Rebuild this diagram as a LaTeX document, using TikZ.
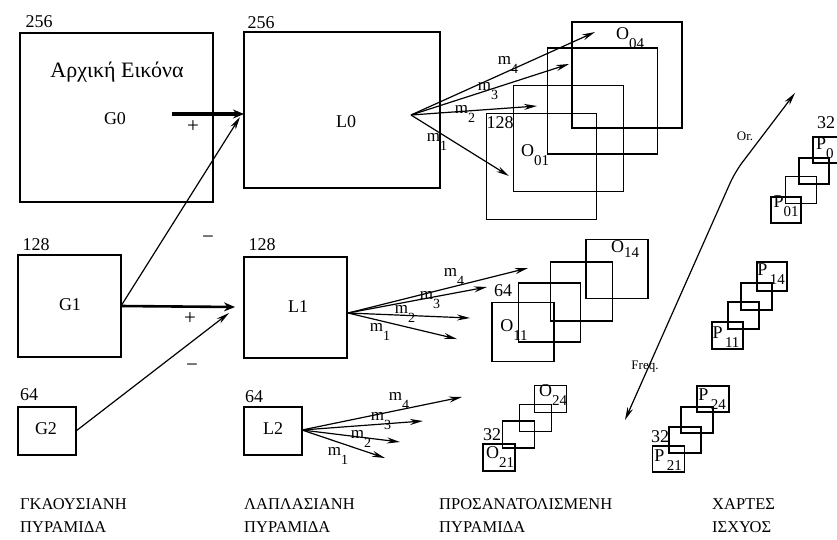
\documentclass[tikz,border=0pt]{standalone}
\usepackage{fontspec}
\setmainfont{Liberation Serif}
\usepackage{tikz}
\usetikzlibrary{arrows.meta, positioning, calc}

% letter with a lowered index, as in the scanned figure
\newcommand{\lowidx}[2]{#1\raisebox{-0.5em}{\fontsize{15}{15}\selectfont #2}}
\newcommand{\midx}[1]{m\raisebox{-0.5em}{\fontsize{14}{14}\selectfont #1}}

\begin{document}
\begin{tikzpicture}[
		x=1pt, y=-1pt,
		font=\fontsize{18}{18}\selectfont,
		box/.style={draw, line width=1.1pt, inner sep=0pt, outer sep=0pt},
		lab/.style={inner sep=0pt},
		sign/.style={inner sep=0pt, font=\fontsize{21}{21}\selectfont},
		mlab/.style={inner sep=0pt, font=\fontsize{17}{17}\selectfont},
		pyrcap/.style={inner sep=0pt, align=left, anchor=west, font=\fontsize{16.5}{23}\selectfont},
		arr/.style={-{Stealth[length=13pt, width=6pt]}, line width=1.2pt},
		thk/.style={-{Stealth[length=11pt, width=9pt]}}
		]
		
		\useasboundingbox (0,0) rectangle (837,539);
		\clip (0,0) rectangle (837,539);
		
		% Gaussian pyramid
		\node[box, minimum width=193, minimum height=169] (G0) at (116.5,117.5) {};
		\node[box, minimum width=103, minimum height=102] (G1) at (69.5,306) {};
		\node[box, minimum width=58, minimum height=48] (G2) at (47,431) {};
		\node[lab] (g0size) at (39,22) {256};
		\node[lab] (g1size) at (36,245) {128};
		\node[lab] (g2size) at (29,395) {64};
		\node[lab, font=\fontsize{22}{22}\selectfont] (orig) at (117,72) {Αρχική Εικόνα};
		\node[lab] (g0name) at (115,119) {G0};
		\node[lab] (g1name) at (70,305) {G1};
		\node[lab] (g2name) at (46,429) {G2};
		
		% Laplacian pyramid
		\node[box, minimum width=196, minimum height=156] (L0) at (342,110) {};
		\node[box, minimum width=103, minimum height=101] (L1) at (295.5,307.5) {};
		\node[box, minimum width=58, minimum height=48] (L2) at (273,431) {};
		\node[lab] (l0size) at (261,23) {256};
		\node[lab] (l1size) at (262,245) {128};
		\node[lab] (l2size) at (254,397) {64};
		\node[lab] (l0name) at (346,122) {L0};
		\node[lab] (l1name) at (298,307) {L1};
		\node[lab] (l2name) at (273,429) {L2};
		
		% Differences G - expand(G)
		\coordinate (g0out) at (172,114);
		\coordinate (l0in) at (244,114);
		\coordinate (l0low) at (240,117);
		\coordinate (l1in) at (235,307);
		\coordinate (l1low) at (229,313);
		\draw[thk, line width=4.5pt] (g0out) -- (l0in);
		\draw[arr] (G1.east) -- (l0low);
		\draw[thk, line width=2.6pt] (G1.east) -- (l1in);
		\draw[arr] (G2.east) -- (l1low);
		\node[sign] (plus0) at (193,127) {+};
		\node[sign] (minus0) at (208,240) {−};
		\node[sign] (plus1) at (190,319) {+};
		\node[sign] (minus1) at (192,368) {−};
		
		% Orientation filters on L0
		\coordinate (l0fan) at (411,115);
		\coordinate (l0m4) at (595,32);
		\coordinate (l0m3) at (569,64);
		\coordinate (l0m2) at (537,106);
		\coordinate (l0m1) at (509,176);
		\draw[arr] (l0fan) -- (l0m4);
		\draw[arr] (l0fan) -- (l0m3);
		\draw[arr] (l0fan) -- (l0m2);
		\draw[arr] (l0fan) -- (l0m1);
		\node[mlab] (l0t4) at (508,65) {\midx{4}};
		\node[mlab] (l0t3) at (488,91) {\midx{3}};
		\node[mlab] (l0t2) at (465,114) {\midx{2}};
		\node[mlab] (l0t1) at (437,142) {\midx{1}};
		
		% Orientation filters on L1
		\coordinate (l1fan) at (348,313);
		\coordinate (l1m4) at (528,268);
		\coordinate (l1m3) at (487,287);
		\coordinate (l1m2) at (470,318);
		\coordinate (l1m1) at (457,339);
		\draw[arr] (l1fan) -- (l1m4);
		\draw[arr] (l1fan) -- (l1m3);
		\draw[arr] (l1fan) -- (l1m2);
		\draw[arr] (l1fan) -- (l1m1);
		\node[mlab] (l1t4) at (454,277) {\midx{4}};
		\node[mlab] (l1t3) at (430,300) {\midx{3}};
		\node[mlab] (l1t2) at (405,314) {\midx{2}};
		\node[mlab] (l1t1) at (380,332) {\midx{1}};
		
		% Orientation filters on L2
		\coordinate (l2fan) at (302,430);
		\coordinate (l2m4) at (462,397);
		\coordinate (l2m3) at (423,421);
		\coordinate (l2m2) at (400,442);
		\coordinate (l2m1) at (385,458);
		\draw[arr] (l2fan) -- (l2m4);
		\draw[arr] (l2fan) -- (l2m3);
		\draw[arr] (l2fan) -- (l2m2);
		\draw[arr] (l2fan) -- (l2m1);
		\node[mlab] (l2t4) at (399,401) {\midx{4}};
		\node[mlab] (l2t3) at (381,421) {\midx{3}};
		\node[mlab] (l2t2) at (361,439) {\midx{2}};
		\node[mlab] (l2t1) at (338,456) {\midx{1}};
		
		% Oriented pyramid, level 0
		\node[box, minimum width=110, minimum height=106] (O01) at (541.5,166.5) {};
		\node[box, minimum width=110, minimum height=106] (O02) at (568.5,138.5) {};
		\node[box, minimum width=110, minimum height=106] (O03) at (602.5,101) {};
		\node[box, minimum width=110, minimum height=106] (O04) at (627,75) {};
		\node[lab] (o0size) at (500,123) {128};
		\node[lab] (o01name) at (535,155) {\lowidx{O}{01}};
		\node[lab] (o04name) at (630,38) {\lowidx{O}{04}};
		
		% Oriented pyramid, level 1
		\node[box, minimum width=62, minimum height=59] (O11) at (523,332) {};
		\node[box, minimum width=62, minimum height=59] (O12) at (549.5,312.5) {};
		\node[box, minimum width=62, minimum height=59] (O13) at (581.5,291.5) {};
		\node[box, minimum width=62, minimum height=59] (O14) at (617,269) {};
		\node[lab] (o1size) at (503,291) {64};
		\node[lab] (o11name) at (514,330) {\lowidx{O}{11}};
		\node[lab] (o14name) at (625,249) {O\raisebox{-0.3em}{\fontsize{15}{15}\selectfont 14}};
		
		% Oriented pyramid, level 2
		\node[box, minimum width=32, minimum height=27] (O21) at (499,457.5) {};
		\node[box, minimum width=32, minimum height=27] (O22) at (518.5,434.5) {};
		\node[box, minimum width=32, minimum height=27] (O23) at (535.5,418) {};
		\node[box, minimum width=32, minimum height=27] (O24) at (550.5,399) {};
		\node[lab] (o2size) at (492,435) {32};
		\node[lab] (o21name) at (500,457) {\lowidx{O}{21}};
		\node[lab] (o24name) at (553,395) {\lowidx{O}{24}};
		
		% Power maps, level 0
		\node[box, minimum width=30, minimum height=26] (P01) at (786,210) {};
		\node[box, minimum width=31, minimum height=27] (P02) at (801,190) {};
		\node[box, minimum width=30, minimum height=26] (P03) at (814,171) {};
		\node[box, minimum width=30, minimum height=26] (P04) at (828,150) {};
		\node[lab] (p0size) at (826,123) {32};
		\node[lab] (p01name) at (786,206) {\lowidx{P}{01}};
		\node[lab, anchor=west] (p04name) at (816,148) {\lowidx{P}{0}};
		
		% Power maps, level 1
		\node[box, minimum width=31, minimum height=27] (P11) at (727.5,335.5) {};
		\node[box, minimum width=31, minimum height=27] (P12) at (743.5,315.5) {};
		\node[box, minimum width=31, minimum height=27] (P13) at (756.5,296.5) {};
		\node[box, minimum width=30, minimum height=29] (P14) at (772,276.5) {};
		\node[lab] (p11name) at (726,337) {\lowidx{P}{\,11}};
		\node[lab] (p14name) at (771,274) {\lowidx{P}{\,14}};
		
		% Power maps, level 2
		\node[box, minimum width=32, minimum height=26] (P21) at (668.5,459) {};
		\node[box, minimum width=32, minimum height=26] (P22) at (685,440) {};
		\node[box, minimum width=32, minimum height=26] (P23) at (697,420) {};
		\node[box, minimum width=32, minimum height=26] (P24) at (713,399) {};
		\node[lab] (p2size) at (660,437) {32};
		\node[lab] (p21name) at (668,460) {\lowidx{P}{\,21}};
		\node[lab] (p24name) at (712,399) {\lowidx{P}{\,24}};
		
		% Orientation / frequency axis
		\coordinate (freqend) at (625,420);
		\coordinate (axisbend) at (735,172);
		\coordinate (orend) at (795,93);
		\draw[arr, {Stealth[length=13pt, width=6pt]}-{Stealth[length=13pt, width=6pt]}, rounded corners=12pt]
		(freqend) -- (axisbend) -- (orend);
		\node[lab, font=\fontsize{13}{13}\selectfont] (ortext) at (745,136) {Or.};
		\node[lab, font=\fontsize{13}{13}\selectfont] (freqtext) at (645,367) {Freq.};
		
		% Captions
		\node[pyrcap] (capG) at (20,516) {ΓΚΑΟΥΣΙΑΝΗ\\ΠΥΡΑΜΙΔΑ};
		\node[pyrcap] (capL) at (244,516) {ΛΑΠΛΑΣΙΑΝΗ\\ΠΥΡΑΜΙΔΑ};
		\node[pyrcap] (capO) at (439,516) {ΠΡΟΣΑΝΑΤΟΛΙΣΜΕΝΗ\\ΠΥΡΑΜΙΔΑ};
		\node[pyrcap] (capP) at (712,516) {ΧΑΡΤΕΣ\\ΙΣΧΥΟΣ};
		
	\end{tikzpicture}
\end{document}
